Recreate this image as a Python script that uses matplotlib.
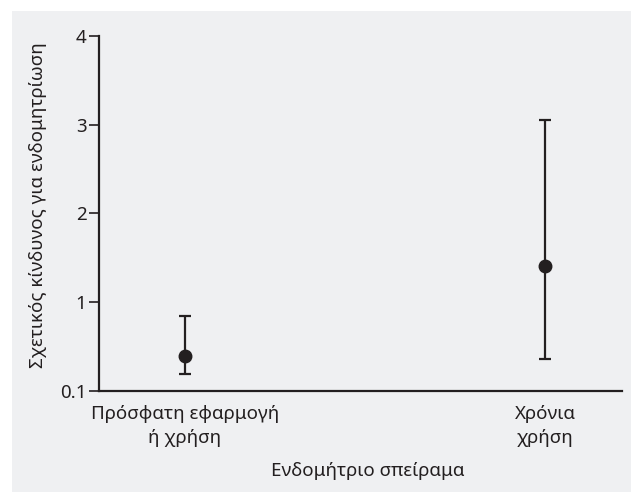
import numpy as np
import matplotlib.pyplot as plt
from matplotlib.patches import Rectangle

plt.rcParams['font.family'] = ['Noto Sans', 'DejaVu Sans']

categories = ["Πρόσφατη εφαρμογή\nή χρήση", "Χρόνια\nχρήση"]
rr = [0.45, 1.41]
ci_low = [0.27, 0.42]
ci_high = [0.86, 3.05]
yticks = [0.1, 1, 2, 3, 4]
ytick_labels = ["0.1", "1", "2", "3", "4"]

ink = '#231f20'
bg = '#eff0f2'


# axis is stretched below 1: 0.1 sits where 0 would be
def fwd(v):
    v = np.asarray(v, dtype=float)
    return np.where(v < 1, (v - 0.1) / 0.9, v)


def inv(p):
    p = np.asarray(p, dtype=float)
    return np.where(p < 1, 0.1 + 0.9 * p, p)


fig = plt.figure(figsize=(6.31, 4.92), dpi=100)
fig.patch.set_facecolor(bg)
# white strip on the top and left edge
fig.patches.append(Rectangle((0, 0), 12 / 631, 1, transform=fig.transFigure,
                             facecolor='white', edgecolor='none', zorder=-10))
fig.patches.append(Rectangle((0, 1 - 11 / 492), 1, 11 / 492, transform=fig.transFigure,
                             facecolor='white', edgecolor='none', zorder=-10))

ax = fig.add_axes([99 / 631, (492 - 390.7) / 492, 523 / 631, 354.7 / 492])
ax.set_facecolor(bg)
ax.set_yscale('function', functions=(fwd, inv))

x = np.arange(len(categories))
rr_a = np.array(rr)
yerr = [rr_a - np.array(ci_low), np.array(ci_high) - rr_a]
ax.errorbar(x, rr, yerr=yerr, fmt='o', color=ink, ms=9, elinewidth=1.6,
            capsize=4.2, capthick=1.6)

ax.set_ylim(0.1, 4)
ax.set_xlim(-0.239, 1.214)
ax.set_yticks(yticks)
ax.set_yticklabels(ytick_labels)
ax.minorticks_off()
ax.set_xticks(x)
ax.set_xticklabels(categories, linespacing=1.45)

for s in ['top', 'right']:
    ax.spines[s].set_visible(False)
for s in ['left', 'bottom']:
    ax.spines[s].set_color(ink)
    ax.spines[s].set_linewidth(1.6)

ax.tick_params(axis='y', length=7, width=1.2, color=ink, labelsize=13.5, labelcolor=ink, pad=2)
ax.tick_params(axis='x', length=0, labelsize=13.5, labelcolor=ink, pad=10)

ax.set_ylabel("Σχετικός κίνδυνος για ενδομητρίωση", fontsize=13.5, color=ink)
ax.set_xlabel("Ενδομήτριο σπείραμα", fontsize=13.5, color=ink)
ax.yaxis.set_label_coords(-0.0994, 0.5235)
ax.xaxis.set_label_coords(0.514, -0.201)

fig.savefig('out.png', dpi=100, facecolor=fig.get_facecolor())
